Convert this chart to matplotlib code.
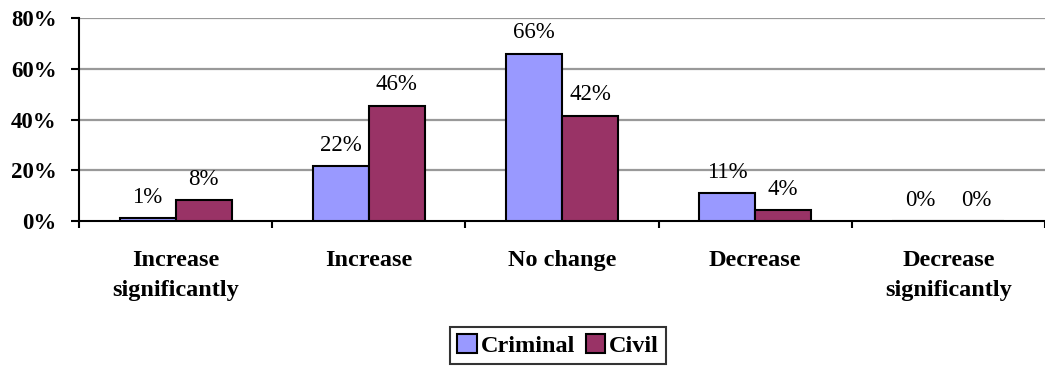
import matplotlib
matplotlib.use("Agg")
import matplotlib.pyplot as plt
import numpy as np

categories = ["Increase\nsignificantly", "Increase", "No change", "Decrease", "Decrease\nsignificantly"]
criminal = [1.0, 21.5, 66.0, 11.0, 0.0]
civil = [8.2, 45.5, 41.5, 4.4, 0.0]
criminal_labels = ["1%", "22%", "66%", "11%", "0%"]
civil_labels = ["8%", "46%", "42%", "4%", "0%"]
yticks = [0, 20, 40, 60, 80]
ytick_labels = ["0%", "20%", "40%", "60%", "80%"]

plt.rcParams['font.family'] = ['Liberation Serif', 'DejaVu Serif']

fig = plt.figure(figsize=(10.45, 3.67), dpi=100)
ax = fig.add_axes([79/1045, 1 - 221/367, 1 - 79/1045, (221 - 18)/367])

x = np.arange(len(categories))
w = 0.29
c_crim = "#9999FF"
c_civ = "#993366"
b1 = ax.bar(x - w/2, criminal, width=w, color=c_crim, edgecolor="black", linewidth=1.5, zorder=3, label="Criminal")
b2 = ax.bar(x + w/2, civil, width=w, color=c_civ, edgecolor="black", linewidth=1.5, zorder=3, label="Civil")

for xi, v, lab in zip(x - w/2, criminal, criminal_labels):
    ax.annotate(lab, (xi, v), xytext=(0, 11), textcoords="offset points",
                ha="center", va="baseline", fontsize=16.5, color="black")
for xi, v, lab in zip(x + w/2, civil, civil_labels):
    ax.annotate(lab, (xi, v), xytext=(0, 11), textcoords="offset points",
                ha="center", va="baseline", fontsize=16.5, color="black")

ax.set_xlim(-0.5, len(categories) - 0.5)
ax.set_ylim(0, 80)
for yv in yticks[1:]:
    ax.axhline(yv, color="#999999", linewidth=1.6, zorder=1)

ax.set_yticks(yticks)
ax.set_yticklabels(ytick_labels, fontsize=16.5, fontweight="bold")
ax.tick_params(axis="y", direction="out", length=6, width=1.5, pad=10)

ax.set_xticks(x)
ax.set_xticklabels(categories, fontsize=17.5, fontweight="bold", linespacing=1.58)
ax.tick_params(axis="x", which="major", length=0, pad=21)
ax.set_xticks(np.arange(len(categories) + 1) - 0.5, minor=True)
ax.tick_params(axis="x", which="minor", direction="out", length=5, width=1.5)

for s in ["top", "right"]:
    ax.spines[s].set_visible(False)
ax.spines["left"].set_linewidth(1.5)
ax.spines["bottom"].set_linewidth(1.5)

leg = fig.legend(handles=[b1, b2], loc="upper center", bbox_to_anchor=(558/1045, 1 - 327/367),
                 ncol=2, frameon=True, fancybox=False, shadow=False,
                 prop={"size": 17.5, "weight": "bold"},
                 handlelength=0.8, handleheight=0.8, handletextpad=0.15,
                 columnspacing=0.45, borderpad=0.3, borderaxespad=0)
leg.get_frame().set_edgecolor("black")
leg.get_frame().set_linewidth(1.5)

fig.savefig("out.png", dpi=100)
